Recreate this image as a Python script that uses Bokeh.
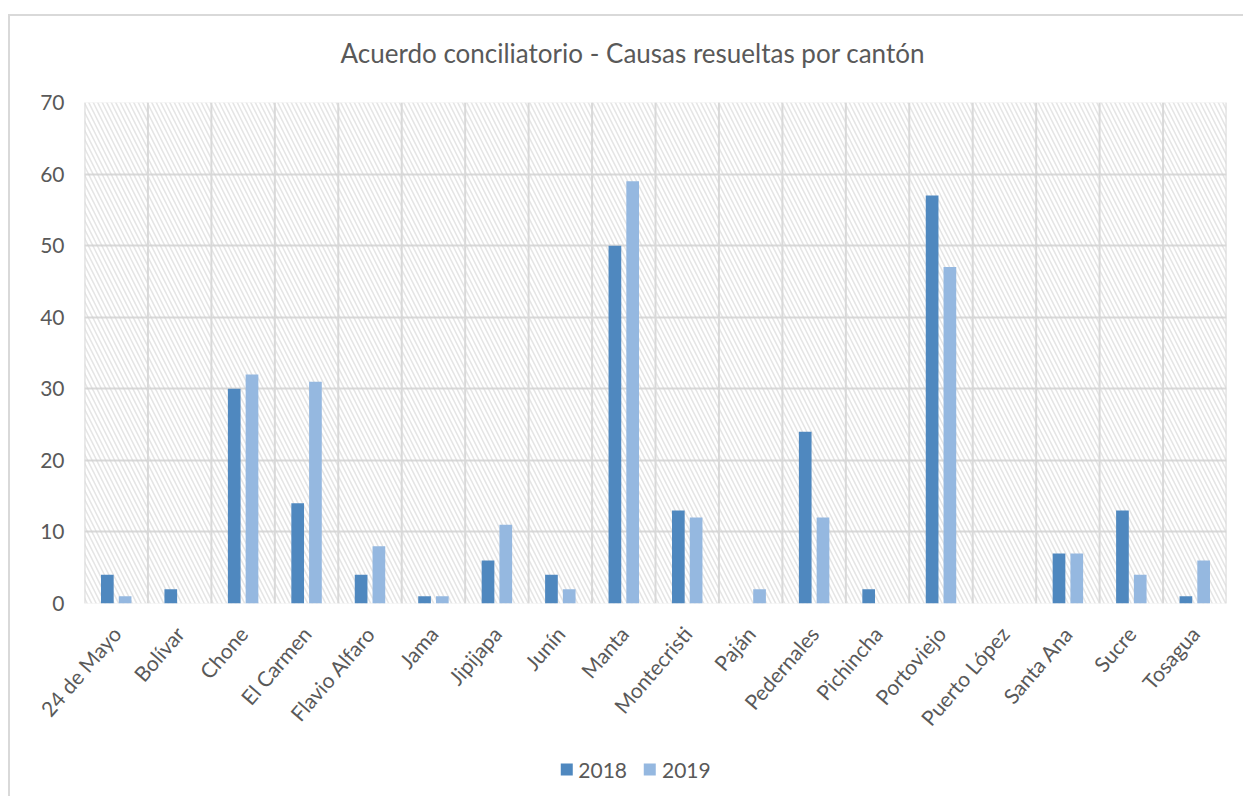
from bokeh.plotting import figure
from bokeh.models import (FactorRange, BoxAnnotation, Span, Legend, LegendItem,
                          FixedTicker, ColumnDataSource, Label, Range1d)
from bokeh.layouts import column
from bokeh.transform import dodge
from bokeh.embed import file_html
from bokeh.resources import INLINE

cantones = ["24 de Mayo", "Bolívar", "Chone", "El Carmen", "Flavio Alfaro", "Jama",
            "Jipijapa", "Junín", "Manta", "Montecristi", "Paján", "Pedernales",
            "Pichincha", "Portoviejo", "Puerto López", "Santa Ana", "Sucre", "Tosagua"]
v2018 = [4, 2, 30, 14, 4, 1, 6, 4, 50, 13, 0, 24, 2, 57, 0, 7, 13, 1]
v2019 = [1, 0, 32, 31, 8, 1, 11, 2, 59, 12, 2, 12, 0, 47, 0, 7, 4, 6]
y_ticks = [0, 10, 20, 30, 40, 50, 60, 70]
series = ["2018", "2019"]
title_text = "Acuerdo conciliatorio - Causas resueltas por cantón"

FONT = "Lato"
TXT = "#595959"
GRID = "#d9d9d9"
C2018 = "#4f88bf"
C2019 = "#95b8e0"

src = ColumnDataSource(dict(cat=cantones, v2018=v2018, v2019=v2019))
xr = FactorRange(*cantones, range_padding=0)

# title strip
pt = figure(width=1233, height=70, x_range=Range1d(0, 1233), y_range=Range1d(0, 70),
            output_backend="svg", toolbar_location=None,
            x_axis_location=None, y_axis_location=None,
            min_border_left=0, min_border_right=0, min_border_top=0, min_border_bottom=0)
pt.grid.visible = False
pt.outline_line_color = None
pt.add_layout(Label(x=614, y=34, text=title_text, text_align="center", text_baseline="middle",
                    text_font=FONT, text_font_size="26px", text_color=TXT))

# main chart
p = figure(frame_width=1142, frame_height=501, x_range=xr,
           y_range=(0, 70), output_backend="svg", toolbar_location=None,
           min_border_left=74, min_border_right=17, min_border_top=16, min_border_bottom=143)

p.add_layout(BoxAnnotation(fill_alpha=0, hatch_pattern="\\", hatch_color="#d0d0d0",
                           hatch_alpha=0.55, hatch_scale=9, hatch_weight=1.6, level="underlay"))

for k in range(len(cantones) + 1):
    p.add_layout(Span(location=k, dimension="height", line_color=GRID, line_width=2,
                      level="underlay"))

p.xgrid.visible = False
p.ygrid.ticker = FixedTicker(ticks=y_ticks)
p.ygrid.grid_line_color = GRID
p.ygrid.grid_line_width = 2
p.outline_line_color = None

r1 = p.vbar(x=dodge("cat", -0.14, range=xr), top="v2018", width=0.2, source=src,
            fill_color=C2018, line_color=None)
r2 = p.vbar(x=dodge("cat", 0.14, range=xr), top="v2019", width=0.2, source=src,
            fill_color=C2019, line_color=None)

p.yaxis.ticker = FixedTicker(ticks=y_ticks)
for ax in (p.xaxis[0], p.yaxis[0]):
    ax.axis_line_color = None
    ax.major_tick_line_color = None
    ax.minor_tick_line_color = None
    ax.major_label_text_font = FONT
    ax.major_label_text_font_size = "21px"
    ax.major_label_text_color = TXT
p.yaxis.major_label_standoff = 14
p.xaxis.major_label_standoff = 20
p.xaxis.major_label_orientation = 0.86

# legend strip below the chart (zero-size legend proxies)
pl = figure(width=1233, height=50, x_range=Range1d(0, 1), y_range=Range1d(0, 1),
            output_backend="svg", toolbar_location=None,
            x_axis_location=None, y_axis_location=None,
            min_border_left=0, min_border_right=58, min_border_top=0, min_border_bottom=4)
pl.grid.visible = False
pl.outline_line_color = None
l1 = pl.vbar(x=[0.5], top=[0], bottom=[0], width=0, fill_color=C2018, line_color=None)
l2 = pl.vbar(x=[0.5], top=[0], bottom=[0], width=0, fill_color=C2019, line_color=None)
legend = Legend(items=[LegendItem(label=series[0], renderers=[l1]),
                       LegendItem(label=series[1], renderers=[l2])],
                orientation="horizontal", location="center",
                label_text_font=FONT, label_text_font_size="21px", label_text_color=TXT,
                glyph_width=15, glyph_height=15, spacing=15, label_standoff=5,
                padding=0, margin=0,
                border_line_color=None, background_fill_alpha=0)
pl.add_layout(legend)

layout = column(pt, p, pl, spacing=0, margin=(14, 0, 0, 8),
                styles={"border-top": "2px solid #d9d9d9", "border-left": "2px solid #d9d9d9"})

open("out.html", "w").write(file_html(layout, INLINE))
